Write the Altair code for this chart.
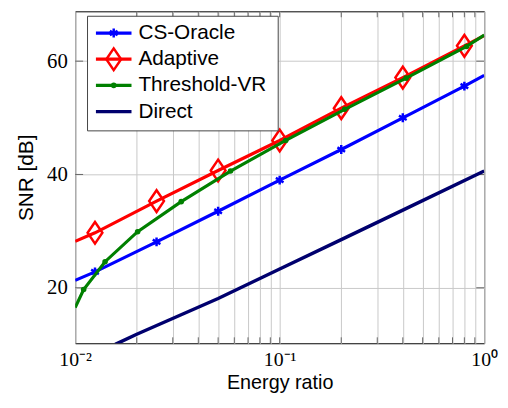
import altair as alt
import pandas as pd

# ---------------- data ----------------
cs_x = [0.01, 0.0125, 0.025, 0.05, 0.1, 0.2, 0.4, 0.8, 1.0]
cs_y = [21.3, 22.8, 28.1, 33.5, 39.0, 44.4, 50.0, 55.6, 57.5]
cs_mark_x = [0.0125, 0.025, 0.05, 0.1, 0.2, 0.4, 0.8]
cs_mark_y = [22.8, 28.1, 33.5, 39.0, 44.4, 50.0, 55.6]

ad_x = [0.01, 0.0125, 0.025, 0.05, 0.1, 0.2, 0.4, 0.8, 1.0]
ad_y = [28.2, 29.7, 35.3, 40.7, 46.0, 51.7, 57.1, 62.7, 64.5]
ad_mark_x = [0.0125, 0.025, 0.05, 0.1, 0.2, 0.4, 0.8]
ad_mark_y = [29.7, 35.3, 40.7, 46.0, 51.7, 57.1, 62.7]

th_x = [0.01, 0.011, 0.014, 0.0202, 0.033, 0.0575, 0.107, 0.208, 0.415, 0.82, 1.0]
th_y = [16.5, 19.7, 24.6, 29.9, 35.2, 40.6, 46.0, 51.5, 57.0, 62.6, 64.6]
th_mark_x = [0.011, 0.014, 0.0202, 0.033, 0.0575, 0.107, 0.208, 0.415, 0.82]
th_mark_y = [19.7, 24.6, 29.9, 35.2, 40.6, 46.0, 51.5, 57.0, 62.6]

di_x = [0.0157, 0.02, 0.05, 0.1, 0.2, 0.4, 1.0]
di_y = [10.0, 11.8, 18.1, 23.3, 28.5, 33.7, 40.6]

series_names = ["CS-Oracle", "Adaptive", "Threshold-VR", "Direct"]
series_colors = ["#0000ff", "#ff0000", "#008000", "#00006e"]

x_grid = [0.01, 0.02, 0.03, 0.04, 0.05, 0.06, 0.07, 0.08, 0.09,
          0.1, 0.2, 0.3, 0.4, 0.5, 0.6, 0.7, 0.8, 0.9, 1.0]
x_tick_labels = {0.01: "10⁻²", 0.1: "10⁻¹", 1.0: "10⁰"}
y_ticks = [20, 40, 60]
y_domain = [10.2, 68.8]

# ---------------- layout ----------------
W, H = 414, 336

STAR = "M0,-1L0,1M-0.866,-0.5L0.866,0.5M-0.866,0.5L0.866,-0.5"
DIAMOND = "M0,-1L0.68,0L0,1L-0.68,0Z"

label_expr = " : ".join(
    f"datum.value == {k} ? '{v}'" for k, v in x_tick_labels.items()
) + " : ''"

x_enc = alt.X(
    "x:Q",
    scale=alt.Scale(type="log", domain=[0.01, 1], nice=False),
    axis=alt.Axis(
        values=x_grid, labelExpr=label_expr, title="Energy ratio",
        labelPadding=23, labelBaseline="alphabetic", labelAlign="center",
        labelFlush=False, labelOverlap=False, labelFontSize=20,
        titleX=W / 2, titleY=46, titleBaseline="alphabetic", titleAlign="center",
        titleFontSize=20,
    ),
)
y_enc = alt.Y(
    "y:Q",
    scale=alt.Scale(domain=y_domain, nice=False, zero=False),
    axis=alt.Axis(
        values=y_ticks, title="SNR [dB]", labelPadding=8, labelAlign="right",
        labelBaseline="middle", labelFlush=False, labelFontSize=21,
        titleAngle=270, titleX=-43, titleY=H / 2, titleAlign="center",
        titleBaseline="alphabetic", titleFontSize=21,
    ),
)


def df(xs, ys):
    return pd.DataFrame({"x": xs, "y": ys})


def line(xs, ys, color, sw=3.2):
    return alt.Chart(df(xs, ys)).mark_line(color=color, strokeWidth=sw, clip=True).encode(
        x=x_enc, y=y_enc)


layers = []

# inward ticks
tick_color = "#666666"
xt = pd.DataFrame({"x": x_grid[1:-1]})
layers.append(alt.Chart(xt).mark_rule(color=tick_color, strokeWidth=1).encode(
    x=x_enc, y=alt.value(H), y2=alt.value(H - 6)))
layers.append(alt.Chart(xt).mark_rule(color=tick_color, strokeWidth=1).encode(
    x=x_enc, y=alt.value(0), y2=alt.value(6)))
yt = pd.DataFrame({"y": y_ticks})
layers.append(alt.Chart(yt).mark_rule(color=tick_color, strokeWidth=1).encode(
    y=y_enc, x=alt.value(0), x2=alt.value(8)))
layers.append(alt.Chart(yt).mark_rule(color=tick_color, strokeWidth=1).encode(
    y=y_enc, x=alt.value(W - 8), x2=alt.value(W)))

# CS-Oracle
layers.append(line(cs_x, cs_y, series_colors[0]))
layers.append(alt.Chart(df(cs_mark_x, cs_mark_y)).mark_point(
    shape=STAR, size=81, filled=False, stroke=series_colors[0], strokeWidth=2.5, opacity=1
).encode(x=x_enc, y=y_enc))
# Adaptive
layers.append(line(ad_x, ad_y, series_colors[1]))
layers.append(alt.Chart(df(ad_mark_x, ad_mark_y)).mark_point(
    shape=DIAMOND, size=484, filled=False, stroke=series_colors[1], strokeWidth=2.5, opacity=1
).encode(x=x_enc, y=y_enc))
# Threshold-VR
layers.append(line(th_x, th_y, series_colors[2]))
layers.append(alt.Chart(df(th_mark_x, th_mark_y)).mark_point(
    shape="circle", size=32, filled=True, fill=series_colors[2], opacity=1
).encode(x=x_enc, y=y_enc))
# Direct
layers.append(line(di_x, di_y, series_colors[3], sw=3.5))

# ---------------- legend ----------------
box = pd.DataFrame({"label": ["box"]})
layers.append(alt.Chart(box).mark_rect(fill="white", stroke="#444444", strokeWidth=1).encode(
    x=alt.value(12.5), x2=alt.value(205.5), y=alt.value(5), y2=alt.value(121)))

leg_y = [22, 48.5, 75, 101.5]
leg_shapes = [STAR, DIAMOND, "circle", None]
leg_sizes = [81, 484, 32, 0]
for name, col, yc, shp, sz in zip(series_names, series_colors, leg_y, leg_shapes, leg_sizes):
    d = pd.DataFrame({"label": [name]})
    layers.append(alt.Chart(d).mark_rule(color=col, strokeWidth=3.3).encode(
        x=alt.value(21), x2=alt.value(57), y=alt.value(yc)))
    if shp == "circle":
        layers.append(alt.Chart(d).mark_point(shape="circle", size=sz, filled=True,
                                              fill=col, opacity=1).encode(
            x=alt.value(39), y=alt.value(yc)))
    elif shp is not None:
        layers.append(alt.Chart(d).mark_point(shape=shp, size=sz, filled=False, stroke=col,
                                              strokeWidth=2.5, opacity=1).encode(
            x=alt.value(39), y=alt.value(yc)))
    layers.append(alt.Chart(d).mark_text(
        align="left", baseline="middle", font="Liberation Sans", fontSize=21, color="black"
    ).encode(x=alt.value(64), y=alt.value(yc), text="label:N"))

chart = alt.layer(*layers).properties(
    width=W, height=H,
    autosize=alt.AutoSizeParams(type="none"),
    padding={"left": 68, "top": 1, "right": 16, "bottom": 50},
).configure_view(
    stroke="black", strokeWidth=1
).configure_axis(
    domain=False, ticks=False, grid=True, gridColor="#c8c8c8", gridWidth=1,
    labelFont="Liberation Serif", labelColor="black",
    titleFont="Liberation Sans", titleFontWeight="normal",
    titleColor="black",
)

chart.save("out.html", embed_options={"renderer": "svg", "actions": False})
